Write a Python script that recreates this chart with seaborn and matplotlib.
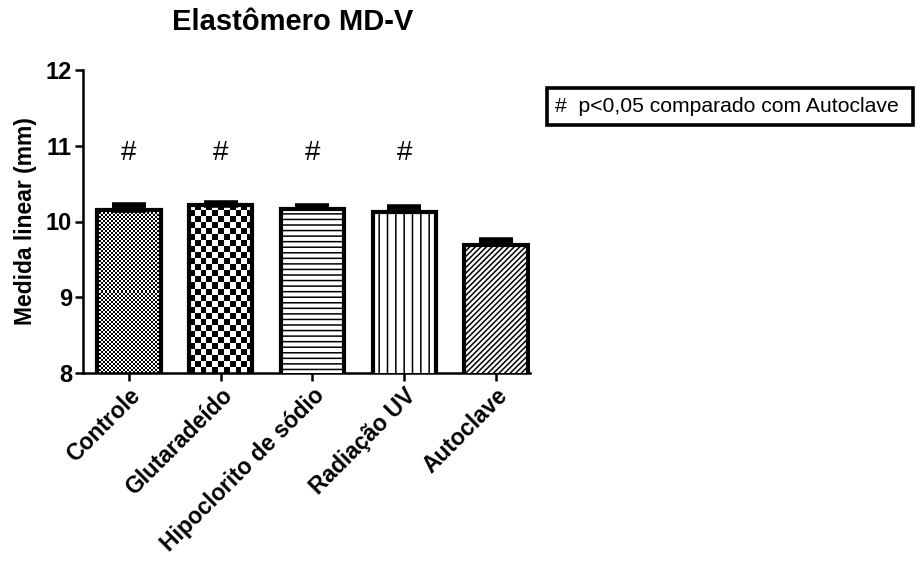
import numpy as np
import pandas as pd
import matplotlib
matplotlib.use("Agg")
import matplotlib.pyplot as plt
import seaborn as sns
from matplotlib.patches import Rectangle

categories = ["Controle", "Glutaradeído", "Hipoclorito de sódio", "Radiação UV", "Autoclave"]
means = [10.15, 10.22, 10.17, 10.12, 9.69]
sems = [0.07, 0.03, 0.03, 0.07, 0.06]
significant = [True, True, True, True, False]
yticks = [8, 9, 10, 11, 12]
title = "Elastômero MD-V"
ylabel = "Medida linear (mm)"
legend_text = "#  p<0,05 comparado com Autoclave"

sns.set_style("ticks")
plt.rcParams["font.family"] = ["Liberation Sans", "DejaVu Sans"]
plt.rcParams["hatch.linewidth"] = 1.1
for k in ["text.color", "axes.labelcolor", "xtick.color", "ytick.color", "axes.edgecolor"]:
    plt.rcParams[k] = "black"

W, H = 917, 566
fig = plt.figure(figsize=(W / 100, H / 100), dpi=100)
ax = fig.add_axes([83 / W, 1 - 373 / H, (530 - 83) / W, (373 - 70) / H])

df = pd.DataFrame({"grupo": categories, "medida": means})
sns.barplot(data=df, x="grupo", y="medida", color="white", edgecolor="black",
            linewidth=3.0, width=0.69, errorbar=None, saturation=1, ax=ax, zorder=3)

ax.set_ylim(8, 12)
ax.set_xlim(-0.5, 4.37)
ax.set_yticks(yticks)

patches = ax.patches[:len(categories)]
styles = ["checker_fine", "checker_coarse", "---", "||", "//////"]
cell_px = {"checker_fine": 2.0, "checker_coarse": 6.0}

fig.canvas.draw()
for p, st in zip(patches, styles):
    if st.startswith("checker"):
        p.set_facecolor("none")
        x0 = p.get_x(); x1 = x0 + p.get_width()
        y0 = ax.get_ylim()[0]; y1 = p.get_height()
        (px0, py0) = ax.transData.transform((x0, y0))
        (px1, py1) = ax.transData.transform((x1, y1))
        c = cell_px[st]
        nx = max(1, int(round((px1 - px0) / c)))
        ny = max(1, int(round((py1 - py0) / c)))
        yy, xx = np.mgrid[0:ny, 0:nx]
        board = ((xx + yy) % 2).astype(float)
        im = ax.imshow(board, cmap="gray", vmin=0, vmax=1, extent=(x0, x1, y0, y1),
                       origin="lower", interpolation="nearest", aspect="auto", zorder=2)
        im.set_clip_path(p)
    else:
        p.set_facecolor("white")
        p.set_hatch(st)

ax.set_xlim(-0.5, 4.37)
ax.set_ylim(8, 12)

xs = [p.get_x() + p.get_width() / 2 for p in patches]
ax.errorbar(xs, means, yerr=[np.zeros(len(sems)), sems], fmt="none", ecolor="black",
            elinewidth=2.8, capsize=12, capthick=4, zorder=2.5)

for x, s in zip(xs, significant):
    if s:
        ax.text(x, 10.9, "#", ha="center", va="center", fontsize=20, color="black")

sns.despine(ax=ax)
for sp in ["left", "bottom"]:
    ax.spines[sp].set_linewidth(1.8)
    ax.spines[sp].set_color("black")
ax.tick_params(axis="both", length=6, width=1.8, colors="black", direction="out", pad=2)
ax.set_xlabel("")
ax.set_ylabel(ylabel, fontsize=16.5, fontweight="bold", labelpad=6)
for lab in ax.get_yticklabels():
    lab.set_fontsize(17); lab.set_fontweight("bold")
ax.set_xticks(range(len(categories)))
ax.set_xticklabels(categories, rotation=45, ha="right", rotation_mode="anchor",
                   fontsize=16.5, fontweight="bold")

fig.text(293 / W, 1 - 22 / H, title, ha="center", va="center", fontsize=21, fontweight="bold")

fig.patches.append(Rectangle((547 / W, 1 - 125 / H), (913 - 547) / W, 37 / H,
                             transform=fig.transFigure, facecolor="white", edgecolor="black",
                             linewidth=2.6, figure=fig))
fig.text(555 / W, 1 - 106.5 / H, legend_text, ha="left", va="center", fontsize=15.2)

fig.savefig("out.png", dpi=100)
